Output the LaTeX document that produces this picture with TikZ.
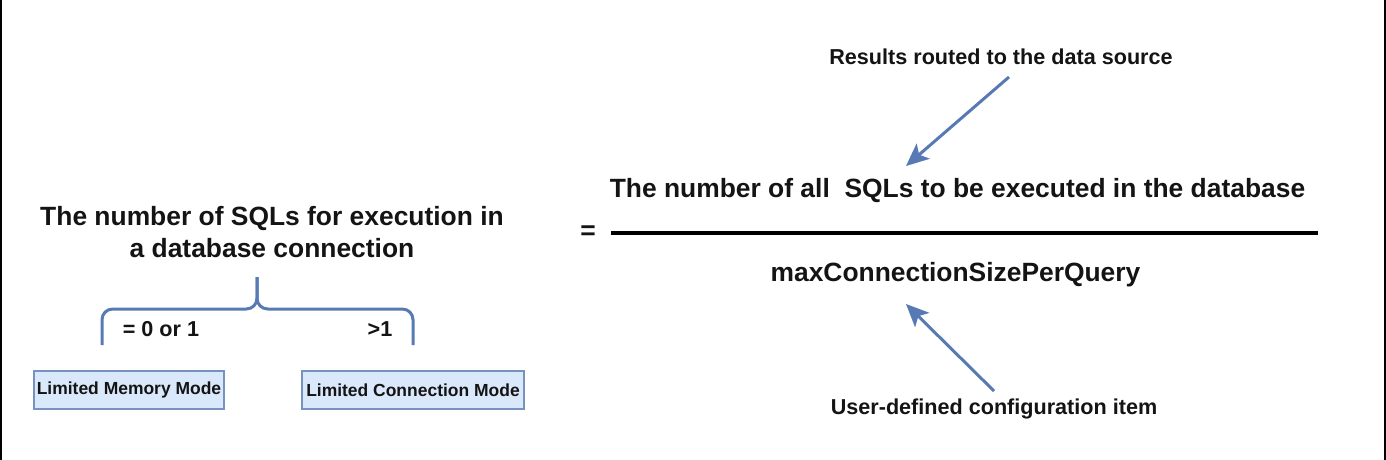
\documentclass[tikz,border=0pt]{standalone}
\usepackage{fontspec}
\setmainfont{Liberation Sans}
\usetikzlibrary{arrows.meta}
\definecolor{arrowblue}{RGB}{88,122,180}
\definecolor{boxfill}{RGB}{218,232,252}
\definecolor{boxline}{RGB}{120,146,190}
\definecolor{txt}{RGB}{20,20,20}
\tikzset{
  bigtext/.style={font=\bfseries\fontsize{19.8}{24}\selectfont, text=txt, inner sep=0pt, align=center},
  midtext/.style={font=\bfseries\fontsize{16.2}{19}\selectfont, text=txt, inner sep=0pt},
  smalltext/.style={font=\bfseries\fontsize{13.1}{16}\selectfont, text=txt, inner sep=0pt},
  modebox/.style={smalltext, draw=boxline, fill=boxfill, line width=1.5pt, minimum height=28.5pt},
  bracepath/.style={draw=arrowblue, line width=2.25pt, rounded corners=8pt},
  callout/.style={draw=arrowblue, line width=2.25pt, -{Stealth[length=17pt,width=15pt,inset=4pt]}},
}
\begin{document}
\begin{tikzpicture}[x=0.75pt,y=-0.75pt]
\useasboundingbox (0,0) rectangle (1386,460);
% side borders
\draw[line width=1.5pt,black] (1,0) -- (1,460);
\draw[line width=1.5pt,black] (1385,0) -- (1385,460);

% left part
\node[bigtext] (title) at (272,232) {The number of SQLs for execution in\\a database connection};
\coordinate (btip) at (257,277);
\coordinate (bmid) at (257,309);
\coordinate (bl) at (102,345);
\coordinate (br) at (413,345);
\draw[bracepath] (bl) -- (bl |- bmid) -- (bmid) -- (btip);
\draw[bracepath] (br) -- (br |- bmid) -- (bmid) -- (btip);
\node[midtext] (lab0) at (161,329) {= 0 or 1};
\node[midtext] (lab1) at (380,329) {>1};
\node[modebox, minimum width=142.5pt] (mem) at (129,390) {Limited Memory Mode};
\node[modebox, minimum width=166.5pt] (con) at (413,390) {Limited Connection Mode};

% right part
\node[bigtext] (eq) at (588,233) {=};
\coordinate (fl) at (611,233);
\coordinate (fr) at (1318,233);
\draw[line width=3pt,black] (fl) -- (fr);
\node[bigtext] (num) at (957.5,191) {The number of all\ \ SQLs to be executed in the database};
\node[bigtext] (den) at (955.5,275) {maxConnectionSizePerQuery};
\node[midtext] (res) at (1001,57) {Results routed to the data source};
\node[midtext] (usr) at (994,409) {User-defined configuration item};
\coordinate (a1s) at (1009,77);
\coordinate (a1e) at (906,166);
\coordinate (a2s) at (994,391);
\coordinate (a2e) at (906,304);
\draw[callout] (a1s) -- (a1e);
\draw[callout] (a2s) -- (a2e);
\end{tikzpicture}
\end{document}
